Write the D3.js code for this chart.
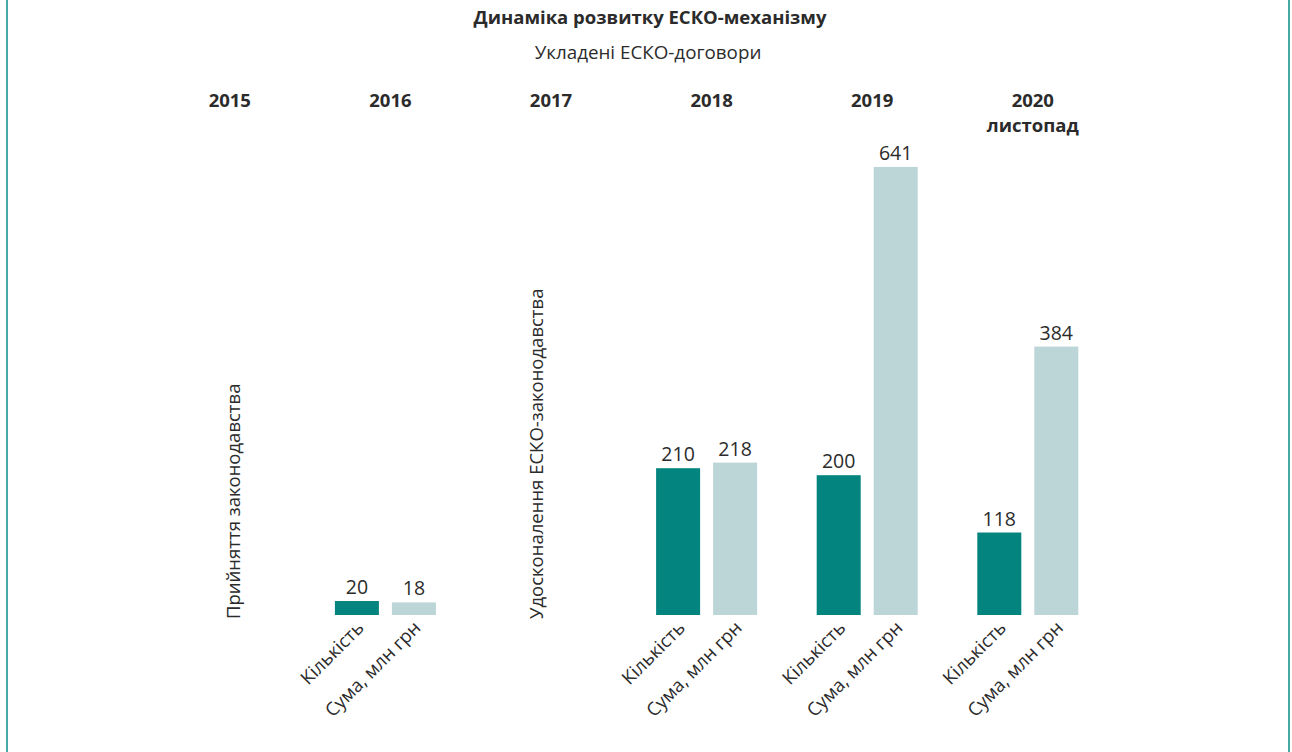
<!DOCTYPE html>
<html>
<head>
<meta charset="utf-8">
<script src="https://cdn.jsdelivr.net/npm/d3@7"></script>
<style>
  body { margin: 0; background: #fff; }
  svg { display: block; font-family: "Open Sans", "Noto Sans", sans-serif; }
</style>
</head>
<body>
<script>
// chart data
const years = ["2015", "2016", "2017", "2018", "2019", "2020"]
const yearSub = ["", "", "", "", "", "листопад"]
const series = ["Кількість", "Сума, млн грн"]
const countVals = [null, 20, null, 210, 200, 118]
const sumVals = [null, 18, null, 218, 641, 384]
const noteYears = ["2015", "2017"]
const noteTexts = ["Прийняття законодавства", "Удосконалення ЕСКО-законодавства"]
const title = "Динаміка розвитку ЕСКО-механізму"
const subtitle = "Укладені ЕСКО-договори"

let w = 1292
let h = 752
let colors = { "Кількість": "#03847f", "Сума, млн грн": "#bcd5d7" }
let textColor = "#2b2b2b"

let svg = d3.select("body").append("svg")
    .attr("width", w)
    .attr("height", h)

// side frame lines
svg.append("line").attr("x1", 7).attr("x2", 7).attr("y1", 0).attr("y2", h)
    .attr("stroke", "#45aaa5").attr("stroke-width", 2)
svg.append("line").attr("x1", 1289).attr("x2", 1289).attr("y1", 0).attr("y2", h)
    .attr("stroke", "#45aaa5").attr("stroke-width", 2)

let xScale = d3.scaleBand()
    .domain(years)
    .range([144.5, 144.5 + 6 * 160.6])
let inner = d3.scaleBand()
    .domain(series)
    .range([-50.5, 50.5])
    .paddingInner(13 / 57)
let yScale = d3.scaleLinear()
    .domain([0, 700])
    .range([615, 615 - 700 * 0.699])

let cx = d => xScale(d) + xScale.bandwidth() / 2

svg.append("text")
    .attr("x", 650).attr("y", 24)
    .attr("text-anchor", "middle")
    .attr("font-weight", "bold")
    .attr("font-size", 18.5)
    .attr("fill", textColor)
    .text(title)
svg.append("text")
    .attr("x", 648).attr("y", 59)
    .attr("text-anchor", "middle")
    .attr("font-size", 18.8)
    .attr("fill", textColor)
    .text(subtitle)

// year headers
let head = svg.append("g")
head.selectAll("text.year")
    .data(years)
    .enter()
    .append("text")
    .attr("class", "year")
    .attr("x", d => cx(d) + 5)
    .attr("y", 107)
    .attr("text-anchor", "middle")
    .attr("font-weight", "bold")
    .attr("font-size", 18.5)
    .attr("fill", textColor)
    .text(d => d)
head.selectAll("text.sub")
    .data(years.map((d, i) => ({ year: d, sub: yearSub[i] })).filter(d => d.sub))
    .enter()
    .append("text")
    .attr("class", "sub")
    .attr("x", d => cx(d.year) + 5)
    .attr("y", 132)
    .attr("text-anchor", "middle")
    .attr("font-weight", "bold")
    .attr("font-size", 18.5)
    .attr("fill", textColor)
    .text(d => d.sub)

// flat list of bars
let bars = []
years.forEach((y, i) => {
    if (countVals[i] != null) bars.push({ year: y, s: series[0], v: countVals[i] })
    if (sumVals[i] != null) bars.push({ year: y, s: series[1], v: sumVals[i] })
})

let g = svg.append("g")
g.selectAll("rect")
    .data(bars)
    .enter()
    .append("rect")
    .attr("x", d => cx(d.year) + inner(d.s))
    .attr("y", d => yScale(d.v))
    .attr("width", inner.bandwidth())
    .attr("height", d => yScale(0) - yScale(d.v))
    .attr("fill", d => colors[d.s])

g.selectAll("text.val")
    .data(bars)
    .enter()
    .append("text")
    .attr("class", "val")
    .attr("x", d => cx(d.year) + inner(d.s) + inner.bandwidth() / 2)
    .attr("y", d => yScale(d.v) - 7)
    .attr("text-anchor", "middle")
    .attr("font-size", 19.5)
    .attr("fill", textColor)
    .text(d => d.v)

g.selectAll("text.cat")
    .data(bars)
    .enter()
    .append("text")
    .attr("class", "cat")
    .attr("transform", d => {
        let x = cx(d.year) + inner(d.s) + inner.bandwidth() / 2 + 8
        return "translate(" + x + "," + 629 + ") rotate(-45)"
    })
    .attr("text-anchor", "end")
    .attr("font-size", 18.5)
    .attr("fill", textColor)
    .text(d => d.s)

// vertical notes for years without bars
let noteDx = [15, -3]
svg.selectAll("text.note")
    .data(noteYears)
    .enter()
    .append("text")
    .attr("class", "note")
    .attr("transform", (d, i) => "translate(" + (cx(d) + noteDx[i]) + "," + 619 + ") rotate(-90)")
    .attr("text-anchor", "start")
    .attr("font-size", 18.5)
    .attr("fill", textColor)
    .text((d, i) => noteTexts[i])
</script>
</body>
</html>
